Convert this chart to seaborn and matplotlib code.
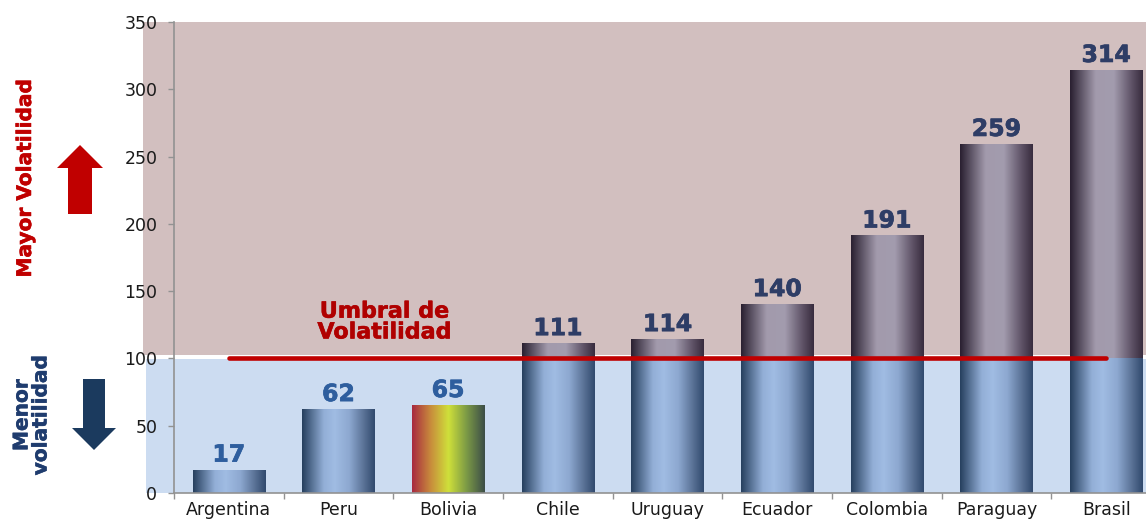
import numpy as np
import pandas as pd
import matplotlib
matplotlib.use("Agg")
import matplotlib.pyplot as plt
import matplotlib.patheffects as pe
from matplotlib.colors import LinearSegmentedColormap
from matplotlib.patches import FancyArrow
import seaborn as sns

# data
countries = ["Argentina", "Peru", "Bolivia", "Chile", "Uruguay",
             "Ecuador", "Colombia", "Paraguay", "Brasil"]
values = [17, 62, 65, 111, 114, 140, 191, 259, 314]
threshold = 100
highlight = "Bolivia"

df = pd.DataFrame({"country": countries, "value": values})

# gradient colours
blue_grad = LinearSegmentedColormap.from_list(
    "blue", [(0, "#27405f"), (0.3, "#93afd7"), (0.45, "#a0bce3"),
             (0.65, "#8da8d0"), (0.85, "#5a7296"), (1, "#314a6e")])
purple_grad = LinearSegmentedColormap.from_list(
    "purple", [(0, "#2a2031"), (0.35, "#a29aac"), (0.6, "#a39cae"),
               (0.85, "#5e5266"), (1, "#382c3e")])
bolivia_grad = LinearSegmentedColormap.from_list(
    "bolivia", [(0, "#a82a40"), (0.25, "#c88a3c"), (0.5, "#cfe03a"),
                (0.75, "#7c9a46"), (1, "#3c4e48")])

sns.set_theme(style="white")
plt.rcParams["font.family"] = ["DejaVu Sans"]


def heavy(color, w=0.5):
    # thicker strokes, closer to the Verdana bold of the original
    return [pe.Stroke(linewidth=w, foreground=color), pe.Normal()]


fig = plt.figure(figsize=(11.46, 5.22), dpi=100)
ax = fig.add_axes([0.1518, 0.0556, 0.8613, 0.9023])

sns.barplot(data=df, x="country", y="value", color="#9db8e0",
            width=0.66, ax=ax, zorder=2)
bars = list(ax.patches)

# gradient fill of each bar
grad = np.linspace(0, 1, 200).reshape(1, -1)
for bar, country in zip(bars, countries):
    x0 = bar.get_x()
    x1 = x0 + bar.get_width()
    h = bar.get_height()
    bar.set_alpha(0)
    if country == highlight:
        ax.imshow(grad, cmap=bolivia_grad, extent=[x0, x1, 0, h],
                  aspect="auto", zorder=2.5, interpolation="bilinear")
        continue
    ax.imshow(grad, cmap=blue_grad, extent=[x0, x1, 0, min(h, threshold)],
              aspect="auto", zorder=2.5, interpolation="bilinear")
    if h > threshold:
        ax.imshow(grad, cmap=purple_grad, extent=[x0, x1, threshold, h],
                  aspect="auto", zorder=2.5, interpolation="bilinear")

ax.set_xlim(-0.5, len(countries) - 0.5)
ax.set_ylim(0, 350)
ax.set_facecolor("white")

# background zones
top_zone = ax.axhspan(threshold + 2.5, 350, xmin=-0.031, xmax=1,
                      color="#d2bfbf", zorder=0, lw=0)
top_zone.set_clip_on(False)
low_zone = ax.axhspan(0, threshold - 0.6, xmin=-0.028, xmax=1,
                      color="#ccdcf1", zorder=0, lw=0)
low_zone.set_clip_on(False)

# threshold line
ax.hlines(threshold, 0, len(countries) - 1, color="#c00000", lw=3.3,
          zorder=4, capstyle="round")
ax.text(1.42, 127, "Umbral de\nVolatilidad", ha="center", va="center",
        fontsize=16, fontweight="bold", color="#b00000", linespacing=1.05,
        zorder=5, path_effects=heavy("#b00000", 0.4))

# value labels
for bar, v in zip(bars, values):
    c = "#2e5e9e" if v < threshold else "#2e3d66"
    ax.annotate(str(v), (bar.get_x() + bar.get_width() / 2, v),
                xytext=(0, 2.5), textcoords="offset points",
                ha="center", va="bottom", fontsize=17, fontweight="bold",
                color=c, zorder=5, path_effects=heavy(c, 0.5))

# axes styling
for s in ["top", "right"]:
    ax.spines[s].set_visible(False)
for s in ["left", "bottom"]:
    ax.spines[s].set_color("#929292")
    ax.spines[s].set_linewidth(1.2)
    ax.spines[s].set_zorder(3)
ax.set_yticks(range(0, 351, 50))
ax.set_xlabel("")
ax.set_ylabel("")
ax.tick_params(axis="y", which="major", direction="out", length=4,
               width=1, color="#929292", pad=8, labelsize=12.5,
               labelcolor="#1a1a1a", left=True)
ax.tick_params(axis="x", which="major", length=0, pad=5.5,
               labelsize=12.5, labelcolor="#1a1a1a")
ax.set_xticks(np.arange(-0.5, len(countries) - 0.5, 1), minor=True)
ax.tick_params(axis="x", which="minor", direction="out", length=4,
               width=1, color="#929292", bottom=True)

# side annotations
over = fig.add_axes([0, 0, 1, 1], zorder=-1)
over.set_xlim(0, 1146)
over.set_ylim(522, 0)
over.axis("off")
over.add_patch(FancyArrow(80, 214, 0, -69, width=24, head_width=46,
                          head_length=23, length_includes_head=True,
                          color="#c00000", lw=0))
over.add_patch(FancyArrow(94, 379, 0, 71, width=22, head_width=44,
                          head_length=22, length_includes_head=True,
                          color="#1b3a5e", lw=0))
over.text(25.5, 178, "Mayor Volatilidad", rotation=90, ha="center",
          va="center", fontsize=14.5, fontweight="bold", color="#c00000",
          path_effects=heavy("#c00000", 0.4))
over.text(31.5, 415, "Menor\nvolatilidad", rotation=90, ha="center",
          va="center", fontsize=14.5, fontweight="bold", color="#1f3c6e",
          multialignment="center", linespacing=1.0,
          path_effects=heavy("#1f3c6e", 0.4))

fig.savefig("out.png", dpi=100)
